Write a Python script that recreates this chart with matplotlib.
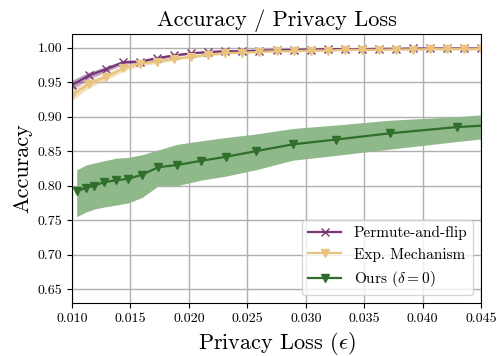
import numpy as np
import matplotlib
matplotlib.use("Agg")
import matplotlib.pyplot as plt

plt.rcParams['font.family'] = 'serif'
plt.rcParams['font.serif'] = ['cmr10']
plt.rcParams['mathtext.fontset'] = 'cm'
plt.rcParams['axes.formatter.use_mathtext'] = True

# baselines share the same epsilon grid
eps_base = [0.0100, 0.01146, 0.01292, 0.01438, 0.01583, 0.01729, 0.01875, 0.02021,
            0.02167, 0.02313, 0.02458, 0.02604, 0.02750, 0.02896, 0.03042, 0.03188,
            0.03333, 0.03479, 0.03625, 0.03771, 0.03917, 0.04063, 0.04208, 0.04354, 0.0450]

pf_mean = [0.946, 0.960, 0.969, 0.979, 0.980, 0.985, 0.989, 0.992, 0.994, 0.995,
           0.995, 0.996, 0.9965, 0.997, 0.9975, 0.998, 0.998, 0.998, 0.9985, 0.9985,
           0.999, 0.999, 0.999, 0.999, 0.999]
pf_lo = [0.939, 0.955, 0.965, 0.976, 0.978, 0.983, 0.987, 0.991, 0.993, 0.994,
         0.994, 0.995, 0.996, 0.9965, 0.997, 0.9975, 0.9975, 0.9975, 0.998, 0.998,
         0.9985, 0.9985, 0.9985, 0.9985, 0.9985]
pf_hi = [0.953, 0.965, 0.973, 0.982, 0.982, 0.987, 0.991, 0.993, 0.995, 0.996,
         0.996, 0.997, 0.997, 0.9975, 0.998, 0.9985, 0.9985, 0.9985, 0.999, 0.999,
         0.9995, 0.9995, 0.9995, 0.9995, 0.9995]

em_mean = [0.931, 0.948, 0.958, 0.970, 0.977, 0.980, 0.984, 0.987, 0.990, 0.992,
           0.993, 0.994, 0.995, 0.995, 0.996, 0.996, 0.997, 0.997, 0.997, 0.9975,
           0.9975, 0.998, 0.998, 0.998, 0.998]
em_lo = [0.924, 0.942, 0.953, 0.966, 0.974, 0.977, 0.982, 0.985, 0.988, 0.991,
         0.992, 0.993, 0.994, 0.994, 0.995, 0.995, 0.996, 0.996, 0.996, 0.9965,
         0.9965, 0.997, 0.997, 0.997, 0.997]
em_hi = [0.938, 0.954, 0.963, 0.974, 0.980, 0.983, 0.986, 0.989, 0.992, 0.993,
         0.994, 0.995, 0.996, 0.996, 0.997, 0.997, 0.998, 0.998, 0.998, 0.9985,
         0.9985, 0.999, 0.999, 0.999, 0.999]

eps_ours = [0.0104, 0.0112, 0.0119, 0.0127, 0.0138, 0.0148, 0.0160, 0.0174, 0.0190,
            0.0210, 0.0232, 0.0257, 0.0289, 0.0326, 0.0372, 0.0429, 0.0490]
ours_mean = [0.792, 0.797, 0.800, 0.805, 0.808, 0.810, 0.816, 0.827, 0.830,
             0.836, 0.842, 0.850, 0.860, 0.867, 0.876, 0.885, 0.891]
ours_lo = [0.755, 0.762, 0.766, 0.769, 0.772, 0.775, 0.783, 0.800, 0.800,
           0.808, 0.814, 0.823, 0.837, 0.844, 0.853, 0.864, 0.875]
ours_hi = [0.823, 0.830, 0.833, 0.836, 0.840, 0.841, 0.845, 0.852, 0.860,
           0.865, 0.870, 0.875, 0.883, 0.888, 0.895, 0.900, 0.908]

purple = '#773577'
yellow = '#e9c47e'
green = '#2f6e2b'

fig = plt.figure(figsize=(4.98, 3.56), dpi=100)
ax = fig.add_axes([0.1446, 0.149, 0.8214, 0.7555])

ax.fill_between(eps_base, pf_lo, pf_hi, color=purple, alpha=0.45, lw=0)
ax.plot(eps_base, pf_mean, color=purple, marker='x', ms=6, lw=1.6, label='Permute-and-flip')
ax.fill_between(eps_base, em_lo, em_hi, color=yellow, alpha=0.5, lw=0)
ax.plot(eps_base, em_mean, color=yellow, marker='v', ms=6, lw=1.6, label='Exp. Mechanism')
ax.fill_between(eps_ours, ours_lo, ours_hi, color='#8fb98a', lw=0)
ax.plot(eps_ours, ours_mean, color=green, marker='v', ms=6, lw=1.6, label=r'Ours ($\delta=0$)')

ax.set_xlim(0.010, 0.045)
ax.set_ylim(0.63, 1.02)
ax.set_xticks(np.arange(0.010, 0.0451, 0.005))
ax.set_yticks(np.arange(0.65, 1.001, 0.05))
ax.set_xticklabels([f"{t:.3f}" for t in np.arange(0.010, 0.0451, 0.005)])
ax.set_yticklabels([f"{t:.2f}" for t in np.arange(0.65, 1.001, 0.05)])
ax.tick_params(labelsize=10)
ax.grid(True, color='#b0b0b0', lw=1)
ax.set_axisbelow(True)

ax.set_title('Accuracy / Privacy Loss', fontsize=16)
ax.set_xlabel(r'Privacy Loss ($\epsilon$)', fontsize=16)
ax.set_ylabel('Accuracy', fontsize=16)
ax.legend(loc='lower right', fontsize=11, handlelength=2.2)

fig.savefig('out.png', dpi=100)
